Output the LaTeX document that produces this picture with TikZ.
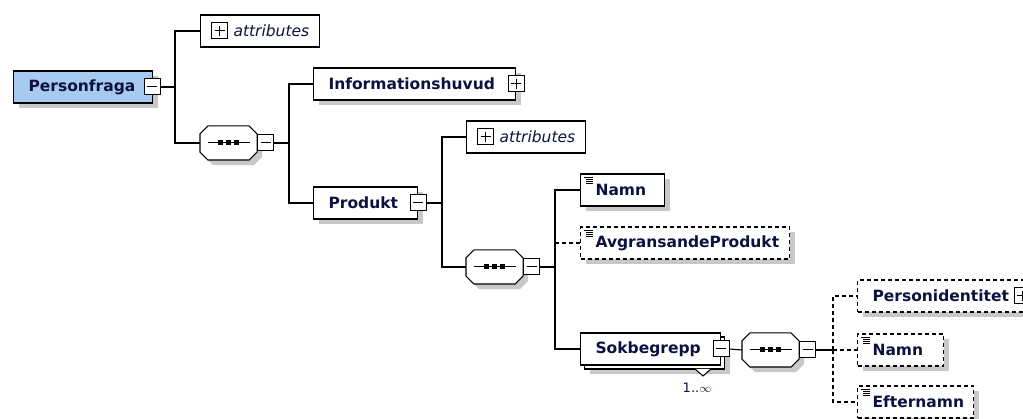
\documentclass[tikz,border=0pt]{standalone}
\usepackage{fontspec}
\setmainfont{DejaVu Sans}
\usetikzlibrary{positioning,shadows}
\definecolor{rootblue}{RGB}{166,202,240}
\definecolor{ink}{RGB}{12,18,64}
\definecolor{shade}{RGB}{200,200,200}

% outline of a sequence compositor round node #2
\newcommand\seqpath[2][]{\path[#1] ([xshift=8pt]#2.north west) -- ([xshift=-8pt]#2.north east)
  -- ([yshift=-8pt]#2.north east) -- ([yshift=8pt]#2.south east) -- ([xshift=-8pt]#2.south east)
  -- ([xshift=8pt]#2.south west) -- ([yshift=8pt]#2.south west) -- ([yshift=-8pt]#2.north west) -- cycle;}
\newcommand\seqbox[1]{%
  \seqpath[fill=shade,transform canvas={shift={(5pt,-5pt)}}]{#1}
  \seqpath[draw,fill=white]{#1}
  \draw[line width=1pt] ([xshift=-21pt]#1.center) -- ([xshift=21pt]#1.center);
  \foreach \d in {-8,0,8}
    \fill ([xshift=\d pt-2.5pt,yshift=-2.5pt]#1.center) rectangle ([xshift=\d pt+2.5pt,yshift=2.5pt]#1.center);}

\begin{document}
\begin{tikzpicture}[x=1pt,y=1pt,line width=1.1pt,
  shad/.style={drop shadow={fill=shade,opacity=1,shadow xshift=#1,shadow yshift=-#1}},
  box/.style={draw,fill=white,anchor=west,minimum height=32pt,inner xsep=15pt,inner ysep=0pt,
    align=left,text=ink,font=\fontsize{15.5}{18}\selectfont\bfseries},
  elem/.style={box,shad=5pt},
  elemmany/.style={box,shad=9pt,copy shadow={draw=black,fill=white,shadow xshift=4pt,shadow yshift=-4pt}},
  opt/.style={dash pattern=on 4pt off 3pt},
  attr/.style={box,inner xsep=7.5pt,font=\fontsize{15.5}{18}\selectfont\itshape,
    path picture={\draw[solid,line width=1pt] ([xshift=11pt,yshift=-8pt]path picture bounding box.west) rectangle +(16,16)
      ([xshift=14pt]path picture bounding box.west) -- +(10,0)
      ([xshift=19pt,yshift=-5pt]path picture bounding box.west) -- +(0,10);}},
  leaf/.style={path picture={\draw[solid,line width=.8pt]
      ([xshift=3pt,yshift=-3pt]path picture bounding box.north west) -- +(9,0)
      ([xshift=5pt,yshift=-5pt]path picture bounding box.north west) -- +(7,0)
      ([xshift=5pt,yshift=-7pt]path picture bounding box.north west) -- +(7,0)
      ([xshift=5pt,yshift=-9pt]path picture bounding box.north west) -- +(7,0);}},
  tog/.style={draw,solid,fill=white,minimum width=16pt,minimum height=16pt,inner sep=0pt,line width=1pt},
  togminus/.style={tog,path picture={\draw ([xshift=3pt]path picture bounding box.west) -- ([xshift=-3pt]path picture bounding box.east);}},
  togplus/.style={tog,path picture={\draw ([xshift=3pt]path picture bounding box.west) -- ([xshift=-3pt]path picture bounding box.east)
      ([yshift=3pt]path picture bounding box.south) -- ([yshift=-3pt]path picture bounding box.north);}},
  seq/.style={anchor=west,minimum width=56pt,minimum height=33pt,inner sep=0pt}]
\useasboundingbox (0,0) rectangle (1023,-419);
\clip (0,0) rectangle (1023,-419);

% root
\node[elem,fill=rootblue,text width=109pt] (pf) at (13,-87) {Personfraga};
\node[togminus] (pf-t) at ([xshift=-1pt]pf.east) {};
\coordinate (b1) at (175,-87);

\node[attr,text width=104pt] (at1) at (200,-31) {\hspace*{25.5pt}\mbox{attributes}};
\node[seq] (s1) at (200,-143) {}; \seqbox{s1}
\node[togminus,anchor=west] (s1-t) at (s1.east) {};
\coordinate (b2) at (289,-143);

\node[elem,text width=172pt] (ih) at (313,-84) {Informationshuvud};
\node[togplus] (ih-t) at (ih.east) {};
\node[elem,text width=74pt] (pr) at (313,-203) {Produkt};
\node[togminus] (pr-t) at (pr.east) {};
\coordinate (b3) at (442,-203);

\node[attr,text width=104pt] (at2) at (466,-137) {\hspace*{25.5pt}\mbox{attributes}};
\node[seq] (s2) at (466,-267) {}; \seqbox{s2}
\node[togminus,anchor=west] (s2-t) at (s2.east) {};
\coordinate (b4) at (555,-267);

\node[elem,leaf,text width=54pt] (nm1) at (580,-190) {Namn};
\node[elem,leaf,opt,text width=179pt] (avg) at (580,-243) {AvgransandeProdukt};
\node[elemmany,text width=110pt] (sok) at (580,-349) {Sokbegrepp};
\node[togminus] (sok-t) at (sok.east) {};
\draw[line width=1pt,fill=white] (695,-369) -- (703,-376) -- (711,-369);
\node[text=ink,font=\fontsize{13}{15}\selectfont] (sok-m) at (697,-388) {1..$\infty$};

\node[seq] (s3) at (742,-350) {}; \seqbox{s3}
\node[togminus,anchor=west] (s3-t) at (s3.east) {};
\coordinate (b5) at (833,-350);

\node[elem,opt,text width=139pt] (pid) at (857,-296) {Personidentitet};
\node[togplus] (pid-t) at ([xshift=-5pt]pid.east) {};
\node[elem,leaf,opt,text width=56pt] (nm2) at (857,-350) {Namn};
\node[elem,leaf,opt,text width=86pt] (eft) at (857,-402) {Efternamn};

% connectors
\draw (pf-t.east) -- (b1) |- (at1.west);
\draw (b1) |- (s1.west);
\draw (s1-t.east) -- (b2) |- (ih.west);
\draw (b2) |- (pr.west);
\draw (pr-t.east) -- (b3) |- (at2.west);
\draw (b3) |- (s2.west);
\draw (s2-t.east) -- (b4) |- (nm1.west);
\draw (b4) |- (sok.west);
\draw[opt] (b4 |- avg.west) -- (avg.west);
\draw (sok-t.east) -- (s3.west);
\draw (s3-t.east) -- (b5);
\draw[opt] (b5) |- (pid.west);
\draw[opt] (b5) -- (nm2.west);
\draw[opt] (b5) |- (eft.west);
\end{tikzpicture}
\end{document}
